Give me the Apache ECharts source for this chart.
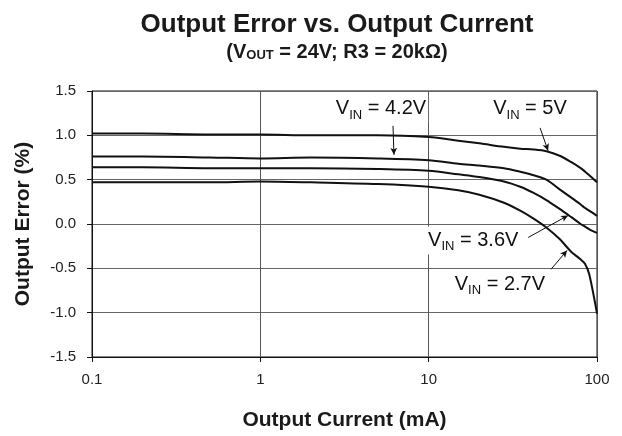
<!DOCTYPE html>
<html>
<head>
<meta charset="utf-8">
<script src="https://cdn.jsdelivr.net/npm/echarts@6/dist/echarts.min.js"></script>
<style>
  html, body { margin: 0; padding: 0; background: #fff; }
  #chart { width: 622px; height: 436px; }
</style>
</head>
<body>
<div id="chart"></div>
<script>
// output current, mA (log axis)
var current = [0.1, 0.2, 0.5, 1, 2, 5, 10, 15, 20, 28, 35, 42, 50, 60, 70, 80, 85, 90, 100];
// output error, %
var vin5  = [1.02, 1.02, 1.01, 1.01, 1.00, 1.00, 0.98, 0.94, 0.91, 0.87, 0.85, 0.84, 0.82, 0.77, 0.70, 0.63, 0.59, 0.55, 0.47];
var vin42 = [0.76, 0.76, 0.75, 0.74, 0.75, 0.74, 0.72, 0.68, 0.66, 0.63, 0.59, 0.55, 0.50, 0.39, 0.30, 0.22, 0.18, 0.15, 0.09];
var vin36 = [0.64, 0.64, 0.63, 0.63, 0.63, 0.62, 0.60, 0.56, 0.53, 0.48, 0.42, 0.35, 0.27, 0.17, 0.08, 0.00, -0.03, -0.06, -0.10];
var vin27 = [0.47, 0.47, 0.47, 0.48, 0.47, 0.45, 0.42, 0.38, 0.33, 0.24, 0.15, 0.06, -0.04, -0.17, -0.31, -0.40, -0.45, -0.57, -1.01];

var yTicks = [-1.5, -1.0, -0.5, 0.0, 0.5, 1.0, 1.5];

// annotation labels [current, error] and their arrows [from, to]
var labelText = ['4.2V', '5V', '3.6V', '2.7V'];
var labelPos = [[5.21, 1.298], [40.0, 1.298], [18.4, -0.185], [26.5, -0.68]];
var arrows = [
  [[6.14, 1.107], [6.22, 0.78]],
  [[45.9, 1.084], [51.2, 0.826]],
  [[39.0, -0.152], [67.3, 0.096]],
  [[53.3, -0.511], [66.4, -0.298]]
];

var font = 'Liberation Sans, Arial, sans-serif';
var ink = '#1a1a1a';

function pairs(ys) {
  var out = [];
  for (var i = 0; i < current.length; i++) out.push([current[i], ys[i]]);
  return out;
}

function curve(name, ys) {
  return {
    name: name,
    type: 'line',
    data: pairs(ys),
    showSymbol: false,
    smooth: 0.3,
    lineStyle: { color: '#111', width: 2 },
    z: 3
  };
}

var chart = echarts.init(document.getElementById('chart'));

var series = [
  curve('5V', vin5),
  curve('4.2V', vin42),
  curve('3.6V', vin36),
  curve('2.7V', vin27)
];

series.push({
  name: 'notes',
  type: 'line',
  data: [],
  z: 5,
  markPoint: {
    symbol: 'circle',
    symbolSize: 0,
    silent: true,
    label: {
      show: true,
      position: 'inside',
      formatter: function (p) { return 'V{s|IN} = ' + p.name; },
      fontFamily: font,
      fontSize: 20,
      color: '#111',
      backgroundColor: '#fff',
      padding: [1, 2, 1, 2],
      lineHeight: 26,
      rich: {
        s: { fontFamily: font, fontSize: 13, color: '#111', verticalAlign: 'bottom', lineHeight: 16 }
      }
    },
    data: labelText.map(function (t, i) { return { name: t, coord: labelPos[i] }; })
  },
  markLine: {
    silent: true,
    symbol: ['none', 'arrow'],
    symbolSize: [5, 7],
    label: { show: false },
    lineStyle: { color: '#111', width: 1, type: 'solid' },
    data: arrows.map(function (a) { return [{ coord: a[0] }, { coord: a[1] }]; })
  }
});

var option = {
  animation: false,
  backgroundColor: '#fff',
  title: {
    text: 'Output Error vs. Output Current',
    subtext: '(V{s|OUT} = 24V; R3 = 20kΩ)',
    left: 332,
    top: 7,
    textAlign: 'center',
    itemGap: 4,
    textStyle: { fontFamily: font, fontSize: 26, fontWeight: 'bold', color: ink },
    subtextStyle: {
      fontFamily: font, fontSize: 20, fontWeight: 'bold', color: ink,
      rich: { s: { fontFamily: font, fontSize: 13, fontWeight: 'bold', color: ink, verticalAlign: 'bottom', lineHeight: 16 } }
    }
  },
  grid: {
    left: 92, right: 25, top: 91, bottom: 78,
    show: true, borderColor: '#111', borderWidth: 1
  },
  xAxis: {
    type: 'log',
    logBase: 10,
    min: 0.1,
    max: 100,
    name: 'Output Current (mA)',
    nameLocation: 'middle',
    nameGap: 53,
    nameTextStyle: { fontFamily: font, fontSize: 21, fontWeight: 'bold', color: ink },
    axisLine: { show: true, onZero: false, lineStyle: { color: '#111' } },
    axisTick: { show: true, length: 5, lineStyle: { color: '#111' } },
    minorTick: { show: false },
    axisLabel: {
      fontFamily: font, fontSize: 15, color: '#222', margin: 15,
      formatter: function (v) { return String(Math.round(v * 10) / 10); }
    },
    splitLine: { show: true, lineStyle: { color: '#555', width: 1 } }
  },
  yAxis: {
    type: 'value',
    min: yTicks[0],
    max: yTicks[yTicks.length - 1],
    interval: 0.5,
    name: 'Output Error (%)',
    nameLocation: 'middle',
    nameGap: 58,
    nameTextStyle: { fontFamily: font, fontSize: 21, fontWeight: 'bold', color: ink },
    axisLine: { show: true, lineStyle: { color: '#111' } },
    axisTick: { show: true, length: 5, lineStyle: { color: '#111' } },
    axisLabel: {
      fontFamily: font, fontSize: 15, color: '#222', margin: 16,
      formatter: function (v) { return v.toFixed(1); }
    },
    splitLine: { show: true, lineStyle: { color: '#666', width: 1 } }
  },
  series: series
};

chart.setOption(option);
</script>
</body>
</html>
